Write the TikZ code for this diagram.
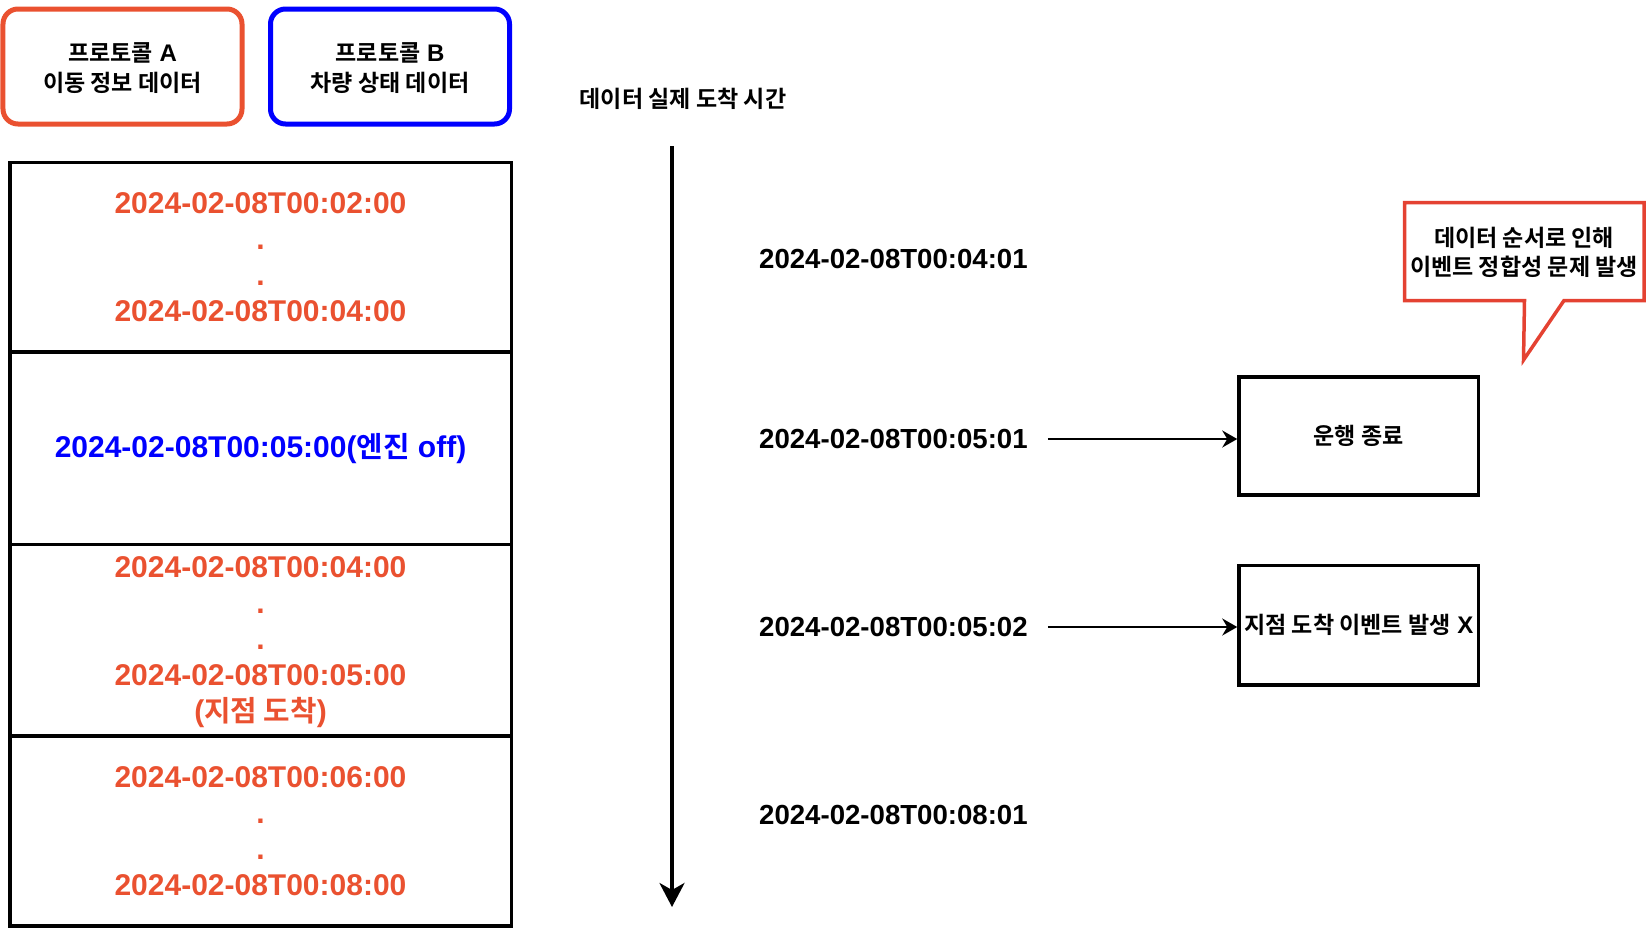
\documentclass[tikz,border=0pt]{standalone}
\usepackage{fontspec}
\setmainfont{Liberation Sans}
\newfontfamily\kr{Noto Sans CJK KR}[Scale=0.96, BoldFont={Noto Sans CJK KR Bold}]
\usetikzlibrary{arrows.meta}
\definecolor{orng}{RGB}{234,81,48}
\definecolor{callred}{RGB}{228,66,50}
\newcommand\hk[1]{{\kr #1}}
\tikzset{
 f24/.style={font=\fontsize{24bp}{29.5bp}\selectfont\bfseries},
 f30/.style={font=\fontsize{30bp}{36bp}\selectfont\bfseries},
 f28/.style={font=\fontsize{27.6bp}{33bp}\selectfont\bfseries},
 hdr/.style={draw, line width=5bp, rounded corners=15bp, minimum width=239bp, minimum height=115bp, inner sep=0},
 hdrtext/.style={align=center, f24, inner sep=0},
 rowbox/.style={draw, line width=3.5bp, minimum width=501.5bp, anchor=north west, inner sep=0},
 rowtext/.style={align=center, f30, text=orng, inner sep=0},
 evbox/.style={draw, line width=3.5bp, minimum width=239.5bp, minimum height=118bp, align=center, f24, inner sep=0},
 tlabel/.style={anchor=west, inner sep=0, f28},
 smallarr/.style={line width=2bp, -{Stealth[length=15bp,width=17bp,inset=5bp]}},
 bigarr/.style={line width=3.5bp, -{Stealth[length=24bp,width=25bp,inset=7bp]}},
}
\begin{document}
\begin{tikzpicture}[x=1bp,y=-1bp]
\useasboundingbox (0,0) rectangle (1648,932);

% headers
\node[hdr, draw=orng] (pA) at (122.5,66.5) {};
\node[hdrtext] (pAt) at (122.5,68) {\hk{프로토콜} A\\\hk{이동 정보 데이터}};
\node[hdr, draw=blue] (pB) at (390,66.5) {};
\node[hdrtext] (pBt) at (390,68) {\hk{프로토콜} B\\\hk{차량 상태 데이터}};

% table rows
\node[rowbox, minimum height=189.5bp] (r1) at (8,160.5) {};
\node[rowbox, minimum height=192.5bp] (r2) at (8,350) {};
\node[rowbox, minimum height=191.5bp] (r3) at (8,542.5) {};
\node[rowbox, minimum height=190bp] (r4) at (8,734) {};
\node[rowtext] (t1) at (r1.center) {2024-02-08T00:02:00\\.\\.\\2024-02-08T00:04:00};
\node[rowtext, text=blue] (t2) at ([yshift=-0.5bp]r2.center) {2024-02-08T00:05:00(\hk{엔진} off)};
\node[rowtext] (t3) at ([yshift=-2bp]r3.center) {2024-02-08T00:04:00\\.\\.\\2024-02-08T00:05:00\\(\hk{지점 도착})};
\node[rowtext] (t4) at (r4.center) {2024-02-08T00:06:00\\.\\.\\2024-02-08T00:08:00};

% timeline
\node[f24] (title) at (683,99) {\hk{데이터 실제 도착 시간}};
\coordinate (tTop) at (672,146);
\coordinate (tEnd) at (672,907);
\draw[bigarr] (tTop) -- (tEnd);

\node[tlabel] (l1) at (759,259) {2024-02-08T00:04:01};
\node[tlabel] (l2) at (759,439) {2024-02-08T00:05:01};
\node[tlabel] (l3) at (759,627) {2024-02-08T00:05:02};
\node[tlabel] (l4) at (759,815) {2024-02-08T00:08:01};

% event boxes
\node[evbox] (b1) at (1358.75,436) {\hk{운행 종료}};
\node[evbox, minimum height=119.5bp] (b2) at (1358.75,625) {\hk{지점 도착 이벤트 발생} X};

\draw[smallarr] ([xshift=20bp]l2.east) -- (l2.east -| b1.west);
\draw[smallarr] ([xshift=20bp]l3.east) -- (l3.east -| b2.west);

% callout
\draw[callred, line width=3.5bp, line join=miter] (1404.7,202.5) -- (1644,202.5) -- (1644,300.5) -- (1564,300.5) -- (1523.5,360) -- (1524.5,300.5) -- (1404.7,300.5) -- cycle;
\node[f24, align=center] (note) at (1524,252.5) {\hk{데이터 순서로 인해}\\\hk{이벤트 정합성 문제 발생}};
\end{tikzpicture}
\end{document}
